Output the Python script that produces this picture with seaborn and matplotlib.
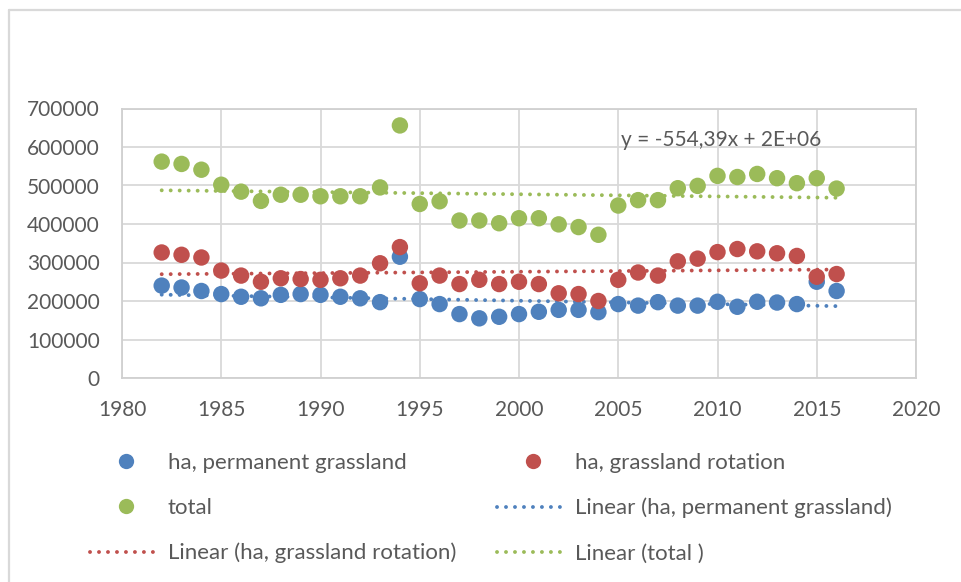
import numpy as np
import seaborn as sns
from matplotlib import pyplot as plt
from matplotlib.lines import Line2D

years = [1982, 1983, 1984, 1985, 1986, 1987, 1988, 1989, 1990, 1991, 1992, 1993,
         1994, 1995, 1996, 1997, 1998, 1999, 2000, 2001, 2002, 2003, 2004, 2005,
         2006, 2007, 2008, 2009, 2010, 2011, 2012, 2013, 2014, 2015, 2016]

permanent = [240000, 235000, 226000, 218000, 211000, 207000, 216000, 218000, 216000,
             211000, 207000, 197000, 315000, 205000, 192000, 166000, 155000, 159000,
             166000, 172000, 177000, 177000, 171000, 192000, 188000, 197000, 188000,
             188000, 198000, 185000, 198000, 196000, 192000, 250000, 226000]

rotation = [326000, 320000, 313000, 279000, 266000, 250000, 259000, 257000, 255000,
            259000, 266000, 298000, 340000, 246000, 266000, 244000, 255000, 244000,
            250000, 244000, 220000, 218000, 200000, 255000, 274000, 266000, 303000,
            310000, 327000, 335000, 329000, 324000, 317000, 263000, 270000]

total = [562000, 556000, 541000, 502000, 484000, 460000, 476000, 476000, 472000,
         472000, 472000, 495000, 656000, 452000, 459000, 409000, 409000, 402000,
         415000, 415000, 399000, 392000, 372000, 448000, 462000, 462000, 493000,
         499000, 525000, 522000, 530000, 519000, 506000, 519000, 492000]

series_names = ["ha, permanent grassland", "ha, grassland rotation", "total"]
trend_names = ["Linear (ha, permanent grassland)", "Linear (ha, grassland rotation)",
               "Linear (total )"]
colors = ["#4F81BD", "#C0504D", "#9BBB59"]
equation = "y = -554,39x + 2E+06"

x_ticks = [1980, 1985, 1990, 1995, 2000, 2005, 2010, 2015, 2020]
y_ticks = [0, 100000, 200000, 300000, 400000, 500000, 600000, 700000]

sns.set_theme(style="whitegrid")
plt.rcParams["font.family"] = ["Lato", "DejaVu Sans"]
text_color = "#595959"
grid_color = "#D9D9D9"

fig = plt.figure(figsize=(9.62, 5.82), dpi=100)
ax = fig.add_axes([122 / 962, 1 - 378 / 582, 794 / 962, 269.5 / 582])

dot = (0, (0.01, 2.3))
for vals, name, tname, c in zip([permanent, rotation, total], series_names, trend_names, colors):
    sns.regplot(x=years, y=vals, ax=ax, ci=None, scatter=False, truncate=True,
                line_kws=dict(color=c, linestyle=dot, linewidth=2.8,
                              dash_capstyle="round", label=tname, zorder=2))

for vals, name, c in zip([permanent, rotation, total], series_names, colors):
    sns.scatterplot(x=years, y=vals, ax=ax, color=c, s=140, edgecolor="none",
                    label=name, zorder=3, legend=False)

ax.set_xlim(1980, 2020)
ax.set_ylim(0, 700000)
ax.set_xticks(x_ticks)
ax.set_yticks(y_ticks)
ax.set_yticklabels([str(v) for v in y_ticks])
ax.tick_params(axis="both", length=0, labelsize=15, labelcolor=text_color)
ax.tick_params(axis="y", pad=16)
ax.tick_params(axis="x", pad=16)
ax.grid(True, color=grid_color, linewidth=1.3)
for s in ax.spines.values():
    s.set_visible(True)
    s.set_color("#D0D0D0")
    s.set_linewidth(1.3)

ax.text(2005.14, 618000, equation, ha="left", va="center", fontsize=15, color=text_color)

# legend: two columns placed separately, row-major order like the original
def mhandle(c):
    return Line2D([], [], marker="o", linestyle="none", color=c, markersize=11,
                  markeredgewidth=0)

def lhandle(c):
    return Line2D([], [], color=c, linestyle=dot, linewidth=2.8, dash_capstyle="round")

col1 = [mhandle(colors[0]), mhandle(colors[2]), lhandle(colors[1])]
col1_lab = [series_names[0], series_names[2], trend_names[1]]
col2 = [mhandle(colors[1]), lhandle(colors[0]), lhandle(colors[2])]
col2_lab = [series_names[1], trend_names[0], trend_names[2]]

leg_kw = dict(loc="upper left", frameon=False, fontsize=16, labelcolor=text_color,
              borderpad=0, borderaxespad=0, handlelength=3.2, handletextpad=0.3,
              labelspacing=1.12)
fig.legend(col1, col1_lab, bbox_to_anchor=(90 / 962, 1 - 453 / 582), **leg_kw)
fig.legend(col2, col2_lab, bbox_to_anchor=(497 / 962, 1 - 453 / 582), **leg_kw)

# chart-area border (left and top edges visible in the original crop)
fig.add_artist(Line2D([9 / 962, 9 / 962], [0, 1 - 10 / 582], color=grid_color, linewidth=1.6))
fig.add_artist(Line2D([9 / 962, 1], [1 - 10 / 582, 1 - 10 / 582], color=grid_color, linewidth=1.6))

fig.savefig("out.png", dpi=100)
